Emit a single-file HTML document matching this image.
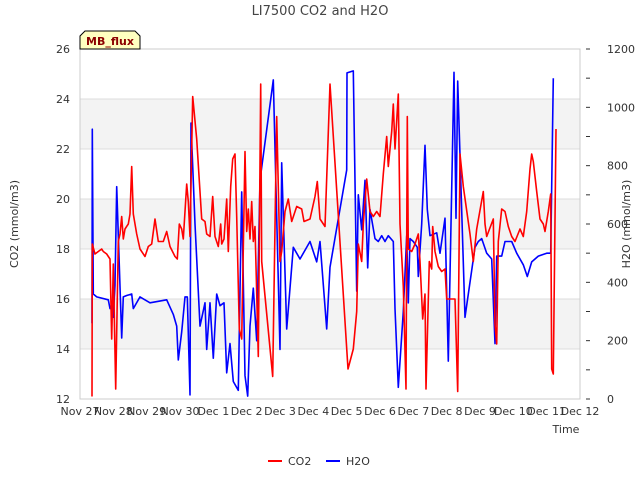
<!DOCTYPE html>
<html><head><meta charset="utf-8"><style>
body{margin:0;background:#fff;}
svg{font-family:"DejaVu Sans","Liberation Sans",sans-serif;}
</style></head><body>
<svg id="chart" width="640" height="480" xmlns="http://www.w3.org/2000/svg"></svg>
<script>
const xTickLabels=["Nov 27","Nov 28","Nov 29","Nov 30","Dec 1","Dec 2","Dec 3","Dec 4","Dec 5","Dec 6","Dec 7","Dec 8","Dec 9","Dec 10","Dec 11","Dec 12"];
const co2Ticks=[12,14,16,18,20,22,24,26];
const h2oTicks=[0,200,400,600,800,1000,1200];
const co2Days=[0.36,0.37,0.45,0.55,0.65,0.7,0.8,0.9,0.95,1.0,1.07,1.15,1.2,1.25,1.3,1.35,1.45,1.5,1.55,1.6,1.7,1.8,1.95,2.05,2.15,2.25,2.35,2.5,2.6,2.7,2.85,2.92,2.98,3.05,3.1,3.2,3.25,3.3,3.38,3.5,3.65,3.75,3.8,3.9,3.98,4.05,4.15,4.22,4.25,4.32,4.4,4.45,4.52,4.58,4.65,4.7,4.78,4.85,4.95,5.0,5.05,5.1,5.15,5.2,5.25,5.35,5.42,5.45,5.78,5.9,6.0,6.05,6.15,6.25,6.35,6.5,6.65,6.72,6.9,7.05,7.12,7.2,7.35,7.5,8.04,8.2,8.3,8.35,8.45,8.5,8.6,8.7,8.8,8.9,9.0,9.1,9.2,9.25,9.35,9.4,9.45,9.55,9.6,9.7,9.78,9.82,9.85,9.95,10.05,10.15,10.2,10.28,10.35,10.38,10.48,10.55,10.58,10.65,10.75,10.85,10.95,11.0,11.25,11.33,11.4,11.5,11.7,11.8,11.9,12.1,12.15,12.2,12.4,12.45,12.5,12.55,12.65,12.75,12.85,12.95,13.05,13.2,13.3,13.4,13.5,13.55,13.6,13.7,13.8,13.9,13.95,14.05,14.12,14.15,14.2,14.28];
const co2Values=[12.1,18.2,17.8,17.9,18.0,17.9,17.8,17.6,14.4,17.4,12.4,18.3,18.6,19.3,18.4,18.8,19.0,19.4,21.3,19.4,18.6,18.0,17.7,18.1,18.2,19.2,18.3,18.3,18.7,18.1,17.7,17.6,19.0,18.8,18.4,20.6,19.9,18.5,24.1,22.4,19.2,19.1,18.6,18.5,20.1,18.5,18.1,19.0,18.2,18.4,20.0,17.9,20.5,21.6,21.8,19.3,14.8,14.4,21.9,18.7,19.6,18.4,19.9,18.3,18.9,13.7,24.6,17.5,12.9,23.3,17.5,17.9,19.5,20.0,19.1,19.7,19.6,19.1,19.2,20.1,20.7,19.2,18.9,24.6,13.2,14.0,15.5,18.2,17.5,19.0,20.8,19.5,19.3,19.5,19.3,21.0,22.5,21.3,22.7,23.8,22.0,24.2,19.0,16.5,12.4,23.3,18.0,17.9,18.2,18.6,17.5,15.2,16.2,12.4,17.5,17.2,18.9,17.9,17.3,17.1,17.2,16.0,16.0,12.3,21.8,20.5,18.6,17.5,18.8,20.3,19.0,18.5,19.2,15.0,14.2,18.3,19.6,19.5,18.9,18.5,18.3,18.8,18.5,19.5,21.2,21.8,21.5,20.3,19.2,19.0,18.7,19.5,20.2,13.2,13.0,22.8];
const h2oDays=[0.36,0.37,0.4,0.5,0.85,0.9,0.97,1.0,1.05,1.1,1.25,1.3,1.4,1.55,1.6,1.8,2.1,2.6,2.8,2.9,2.95,3.05,3.15,3.22,3.3,3.33,3.45,3.6,3.75,3.8,3.9,4.0,4.1,4.2,4.32,4.4,4.5,4.6,4.75,4.85,4.95,5.03,5.1,5.2,5.3,5.4,5.8,6.0,6.05,6.2,6.4,6.6,6.9,7.1,7.2,7.4,7.5,8.0,8.01,8.2,8.3,8.35,8.45,8.55,8.63,8.7,8.85,8.95,9.05,9.15,9.25,9.4,9.45,9.55,9.7,9.8,9.85,9.9,10.0,10.12,10.15,10.25,10.35,10.42,10.5,10.7,10.8,10.95,11.05,11.22,11.28,11.33,11.55,11.85,11.95,12.05,12.2,12.35,12.45,12.5,12.65,12.75,12.95,13.1,13.3,13.42,13.55,13.75,14.0,14.12,14.2];
const h2oValues=[260,925,360,350,340,310,330,280,390,728,209,350,355,360,310,350,330,340,290,250,134,230,350,350,14,946,600,250,330,170,330,140,360,320,330,90,190,60,30,710,80,10,250,380,200,750,1094,170,810,240,520,480,540,470,540,240,452,785,1118,1125,370,700,580,750,450,650,550,540,560,540,560,540,310,40,300,560,330,550,540,520,420,600,870,650,560,570,500,620,130,1120,620,1090,280,520,540,550,500,480,190,490,490,540,540,500,460,420,470,490,500,500,1100];

const L=80,R=580,T=49,B=399;
const xS=d=>L+d*(R-L)/15;
const yC=v=>B-(v-12)*(B-T)/14;
const yH=v=>B-v*(B-T)/1200;
const svg=document.getElementById('chart');
const NS="http://www.w3.org/2000/svg";
function mk(tag,attrs,parent){const e=document.createElementNS(NS,tag);for(const k in attrs)e.setAttribute(k,attrs[k]);(parent||svg).appendChild(e);return e;}

[14,18,22].forEach(v=>{const r=mk('rect',{x:L,y:yC(v+2),width:R-L,height:yC(v)-yC(v+2),fill:'#f3f3f3'});

});
co2Ticks.forEach(v=>{const l=mk('line',{x1:L,x2:R,y1:yC(v),y2:yC(v),stroke:'#dcdcdc','stroke-width':1});

});
const frame=mk('rect',{x:L,y:T,width:R-L,height:B-T,fill:'none',stroke:'#cccccc'});



co2Ticks.forEach(v=>{const t=mk('text',{x:L-10,y:yC(v)+4,'text-anchor':'end','font-size':11,fill:'#333'});t.textContent=v;

});
for(let v=0;v<=1200;v+=100){mk('line',{x1:R+6,x2:R+10,y1:yH(v),y2:yH(v),stroke:'#333'});}
h2oTicks.forEach(v=>{const t=mk('text',{x:R+27,y:yH(v)+4,'text-anchor':'start','font-size':11,fill:'#333'});t.textContent=v;

});
xTickLabels.forEach((s,i)=>{const t=mk('text',{x:xS(i),y:B+16,'text-anchor':'middle','font-size':11,fill:'#333'});t.textContent=s;

});

function line(days,vals,ys,color,name){const p=days.map((d,i)=>(i?'L':'M')+xS(d).toFixed(1)+','+ys(vals[i]).toFixed(1)).join('');
const e=mk('path',{d:p,fill:'none',stroke:color,'stroke-width':1.6,'stroke-linejoin':'round'});

}
line(h2oDays,h2oValues,yH,'#0000ff','h2o-series');
line(co2Days,co2Values,yC,'#ff0000','co2-series');

function txt(x,y,s,attrs,name){const t=mk('text',Object.assign({x:x,y:y},attrs));t.textContent=s;

return t;}
txt(320,15,'LI7500 CO2 and H2O',{'text-anchor':'middle','font-size':13,fill:'#444'},'chart-title');
txt(566,433,'Time',{'text-anchor':'middle','font-size':11,fill:'#333'},'x-axis-title');
txt(18,224,'CO2 (mmol/m3)',{'text-anchor':'middle','font-size':11,fill:'#333',transform:'rotate(-90 18 224)'},'y-axis-left-title');
txt(630,224,'H2O (mmol/m3)',{'text-anchor':'middle','font-size':11,fill:'#333',transform:'rotate(-90 630 224)'},'y-axis-right-title');

const tag=mk('path',{d:'M80,49 L80,36 L85,31 L135,31 L140,36 L140,49 Z',fill:'#ffffc0',stroke:'#000','stroke-width':1});


txt(110,45,'MB_flux',{'text-anchor':'middle','font-size':11,'font-weight':'bold',fill:'#8b0000'},'site-tag-label');

const l1=mk('line',{x1:268,x2:282,y1:461,y2:461,stroke:'#ff0000','stroke-width':2});


txt(288,465,'CO2',{'font-size':11,fill:'#333'},'legend-co2-label');
const l2=mk('line',{x1:326,x2:340,y1:461,y2:461,stroke:'#0000ff','stroke-width':2});


txt(346,465,'H2O',{'font-size':11,fill:'#333'},'legend-h2o-label');
</script>
</body></html>
